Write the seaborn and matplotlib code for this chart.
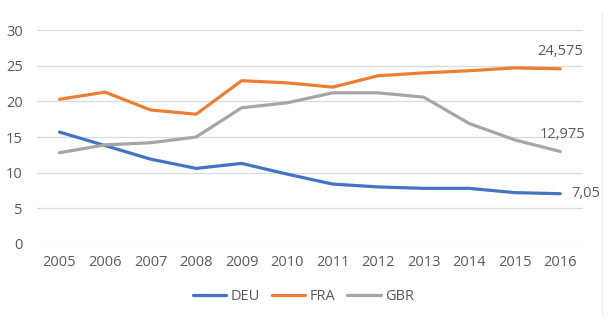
import matplotlib
matplotlib.use("Agg")
import matplotlib.pyplot as plt
import seaborn as sns
import pandas as pd
from matplotlib.lines import Line2D

years = [2005, 2006, 2007, 2008, 2009, 2010, 2011, 2012, 2013, 2014, 2015, 2016]
deu = [15.7, 13.8, 11.9, 10.6, 11.3, 9.8, 8.4, 8.0, 7.8, 7.8, 7.2, 7.05]
fra = [20.3, 21.3, 18.8, 18.2, 22.9, 22.6, 22.0, 23.6, 24.0, 24.3, 24.7, 24.575]
gbr = [12.8, 13.9, 14.2, 15.0, 19.1, 19.8, 21.2, 21.2, 20.6, 16.9, 14.6, 12.975]
series = ["DEU", "FRA", "GBR"]
end_labels = ["7,05", "24,575", "12,975"]
colors = ["#4472C4", "#ED7D31", "#A5A5A5"]
yticks = [0, 5, 10, 15, 20, 25, 30]

sns.set_theme(style="white")
plt.rcParams["font.family"] = ["Open Sans", "DejaVu Sans"]
txt = "#595959"
fs = 10.5

df = pd.DataFrame({
    "year": years * 3,
    "value": deu + fra + gbr,
    "series": [s for s in series for _ in years],
})
df["pos"] = df["year"].map({y: i for i, y in enumerate(years)})

fig = plt.figure(figsize=(6.13, 3.31), dpi=100)
ax = fig.add_axes([0.060, 0.263, 0.891, 0.646])
sns.lineplot(data=df, x="pos", y="value", hue="series", palette=colors,
             linewidth=2.3, ax=ax, legend=False)

ax.set_xlim(-0.5, len(years) - 0.5)
ax.set_ylim(0, 30)
ax.set_yticks(yticks)
ax.set_yticklabels([str(t) for t in yticks])
ax.set_xticks(range(len(years)))
ax.set_xticklabels([str(y) for y in years])
ax.grid(axis="y", color="#D9D9D9", linewidth=0.9)
ax.set_axisbelow(True)
for s in ax.spines.values():
    s.set_visible(False)
ax.tick_params(axis="both", length=0, colors=txt, labelsize=fs)
ax.tick_params(axis="x", pad=8)
ax.tick_params(axis="y", pad=10)
ax.set_xlabel("")
ax.set_ylabel("")

last = len(years) - 1
ax.annotate(end_labels[0], (last, deu[-1]), xytext=(8, 0), textcoords="offset points",
            ha="left", va="center", color=txt, fontsize=fs)
ax.annotate(end_labels[1], (last, fra[-1]), xytext=(0, 7), textcoords="offset points",
            ha="center", va="bottom", color=txt, fontsize=fs)
ax.annotate(end_labels[2], (last, gbr[-1]), xytext=(2, 7), textcoords="offset points",
            ha="center", va="bottom", color=txt, fontsize=fs)

# faint right border line seen in the reference
fig.add_artist(Line2D([0.982, 0.982], [0.048, 0.96], color="#EBEBEB", linewidth=0.8,
                      transform=fig.transFigure))

handles = [Line2D([0], [0], color=c, linewidth=2.3) for c in colors]
leg = fig.legend(handles, series, loc="center", bbox_to_anchor=(0.495, 0.103), ncol=3,
                 frameon=False, fontsize=fs, handlelength=2.3, handletextpad=0.3,
                 columnspacing=0.8)
for t in leg.get_texts():
    t.set_color(txt)

fig.savefig("out.png", dpi=100)
